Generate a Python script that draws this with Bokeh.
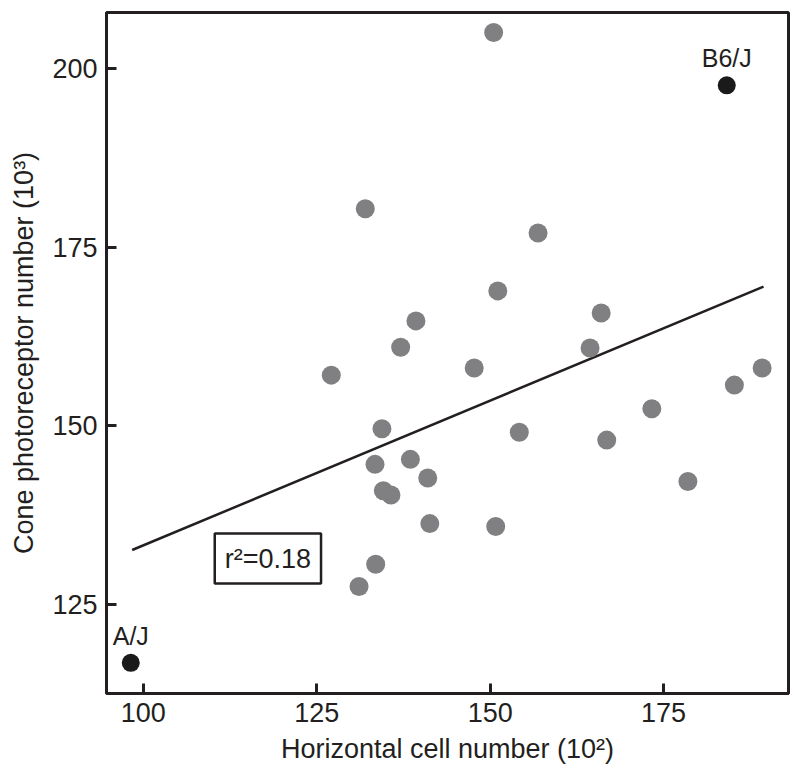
from bokeh.plotting import figure
from bokeh.models import Range1d, ColumnDataSource, Label, FixedTicker
from bokeh.embed import file_html
from bokeh.resources import INLINE

# Strain data (grey points)
hc_number = [150.5, 132.0, 156.9, 151.1, 166.0, 139.3, 137.1, 164.4, 127.1, 147.7,
             185.2, 189.2, 173.3, 154.2, 166.8, 134.4, 133.4, 138.5, 141.0, 134.6,
             135.7, 178.5, 141.3, 150.8, 133.5, 131.1]
cone_number = [205.1, 180.4, 177.0, 168.9, 165.8, 164.7, 161.0, 160.9, 157.1, 158.1,
               155.7, 158.1, 152.4, 149.1, 148.0, 149.6, 144.6, 145.3, 142.7, 140.9,
               140.3, 142.2, 136.3, 135.9, 130.6, 127.5]

# Parental strains (black points)
parent_names = ["B6/J", "A/J"]
parent_hc = [184.1, 98.2]
parent_cone = [197.7, 116.8]

# Regression line endpoints
fit_x = [98.4, 189.4]
fit_y = [132.6, 169.5]

x_ticks = [100, 125, 150, 175]
y_ticks = [125, 150, 175, 200]
r2_text = "r\u00b2=0.18"

FONT = "Liberation Sans"
TXT = "#231f20"

p = figure(width=792, height=770, output_backend="svg", toolbar_location=None,
           x_range=Range1d(94.7, 193.0), y_range=Range1d(112.5, 207.9),
           min_border_left=106, min_border_right=4, min_border_top=12, min_border_bottom=77)
p.grid.visible = False
p.outline_line_color = TXT
p.outline_line_width = 3
p.background_fill_color = "white"

for ax in (p.xaxis[0], p.yaxis[0]):
    ax.axis_line_width = 3
    ax.axis_line_color = TXT
    ax.major_tick_in = 10
    ax.major_tick_out = 0
    ax.major_tick_line_width = 3
    ax.major_tick_line_color = TXT
    ax.minor_tick_line_color = None
    ax.major_label_text_font = FONT
    ax.major_label_text_font_size = "27px"
    ax.major_label_text_color = TXT
    ax.axis_label_text_font = FONT
    ax.axis_label_text_font_size = "27px"
    ax.axis_label_text_font_style = "normal"
    ax.axis_label_text_color = TXT

p.xaxis.ticker = FixedTicker(ticks=x_ticks)
p.yaxis.ticker = FixedTicker(ticks=y_ticks)
p.xaxis.major_label_standoff = 9
p.yaxis.major_label_standoff = 9
p.xaxis.axis_label = "Horizontal cell number (10\u00b2)"
p.yaxis.axis_label = "Cone photoreceptor number (10\u00b3)"
p.xaxis.axis_label_standoff = 9
p.yaxis.axis_label_standoff = 10

p.line(fit_x, fit_y, line_color=TXT, line_width=2.5)

p.scatter(hc_number, cone_number, size=19, fill_color="#808083", line_color=None)

src = ColumnDataSource(dict(x=parent_hc, y=parent_cone, name=parent_names))
p.scatter("x", "y", source=src, size=18, fill_color="#1a1a1a", line_color=None)
p.text("x", "y", text="name", source=src, text_align="center", text_baseline="bottom",
       y_offset=-13, text_font_size="25px", text_color=TXT,
       text_font={"value": FONT})

lbl = Label(x=110.3, y=127.9, text=r2_text, text_font=FONT, text_font_size="27px",
            text_color=TXT, border_line_color=TXT, border_line_width=2.5,
            background_fill_color="white", padding=10)
p.add_layout(lbl)

open("out.html", "w").write(file_html(p, INLINE))
